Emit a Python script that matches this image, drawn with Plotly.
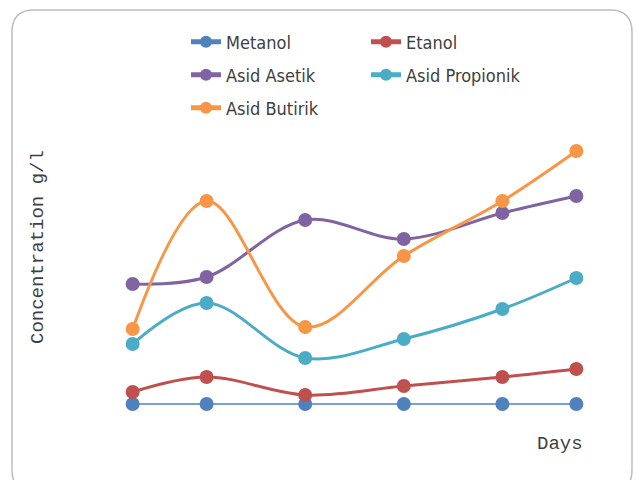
import plotly.graph_objects as go

days = [0, 3, 7, 11, 15, 18]
series_names = ["Metanol", "Etanol", "Asid Asetik", "Asid Propionik", "Asid Butirik"]
metanol = [0, 0, 0, 0, 0, 0]
etanol = [0.6, 1.35, 0.45, 0.9, 1.35, 1.75]
asetik = [6.0, 6.35, 9.2, 8.25, 9.55, 10.4]
propionik = [3.0, 5.05, 2.3, 3.25, 4.75, 6.3]
butirik = [3.75, 10.15, 3.85, 7.4, 10.15, 12.65]
colors = ["#4F81BD", "#C0504D", "#8064A2", "#4BACC6", "#F79646"]
widths = [1.5, 3, 3, 3, 3]

W, H = 636, 480
L, R, T, B = 108, 35, 124, 36
pw, ph = W - L - R, H - T - B

fig = go.Figure()
data = [metanol, etanol, asetik, propionik, butirik]
legend_ids = ["legend", "legend2", "legend3", "legend4", "legend5"]
for name, vals, c, w, lg in zip(series_names, data, colors, widths, legend_ids):
    fig.add_trace(go.Scatter(
        x=days, y=vals, name=name, mode="lines+markers",
        line=dict(color=c, width=w, shape="spline", smoothing=1),
        marker=dict(color=c, size=14, line=dict(width=0)),
        legend=lg,
    ))

# legend positions (container pixels)
leg_pos = [(186, 42), (366, 42), (186, 75), (366, 75), (186, 108)]
legfont = dict(family="DejaVu Sans Condensed, Liberation Sans Narrow, sans-serif", size=18, color="#404040")
layout_legends = {}
for lg, (px, py) in zip(legend_ids, leg_pos):
    layout_legends[lg] = dict(
        xref="container", yref="container", x=px / W, y=1 - py / H,
        xanchor="left", yanchor="middle", bgcolor="rgba(0,0,0,0)",
        font=legfont, borderwidth=0, itemsizing="constant",
    )

def px2paper(X, Y):
    return (X - L) / pw, (T + ph - Y) / ph

# rounded border
x0, y0, x1, y1, r = 12, 10, 632, 492, 22
def P(X, Y):
    a, b = px2paper(X, Y)
    return f"{a:.5f},{b:.5f}"
path = (f"M {P(x0 + r, y0)} L {P(x1 - r, y0)} Q {P(x1, y0)} {P(x1, y0 + r)} "
        f"L {P(x1, y1 - r)} Q {P(x1, y1)} {P(x1 - r, y1)} L {P(x0 + r, y1)} "
        f"Q {P(x0, y1)} {P(x0, y1 - r)} L {P(x0, y0 + r)} Q {P(x0, y0)} {P(x0 + r, y0)} Z")
fig.add_shape(type="path", path=path, xref="paper", yref="paper",
              line=dict(color="#BDBDBD", width=1.5), layer="below")

titlefont = dict(family="Liberation Mono, DejaVu Sans Mono, monospace", size=19, color="#404040")
ax, ay = px2paper(38, 247)
fig.add_annotation(text="Concentration g/l", x=ax, y=ay, xref="paper", yref="paper",
                   showarrow=False, textangle=-90, font=titlefont,
                   xanchor="center", yanchor="middle")
dx, dy = px2paper(560, 444)
fig.add_annotation(text="Days", x=dx, y=dy, xref="paper", yref="paper",
                   showarrow=False, font=titlefont, xanchor="center", yanchor="middle")

fig.update_layout(
    width=W, height=H, margin=dict(l=L, r=R, t=T, b=B, autoexpand=False),
    paper_bgcolor="white", plot_bgcolor="white",
    showlegend=True,
    xaxis=dict(range=[-1, 19], visible=False),
    yaxis=dict(range=[-2, 14], visible=False),
    **layout_legends,
)
fig.write_html("out.html")
